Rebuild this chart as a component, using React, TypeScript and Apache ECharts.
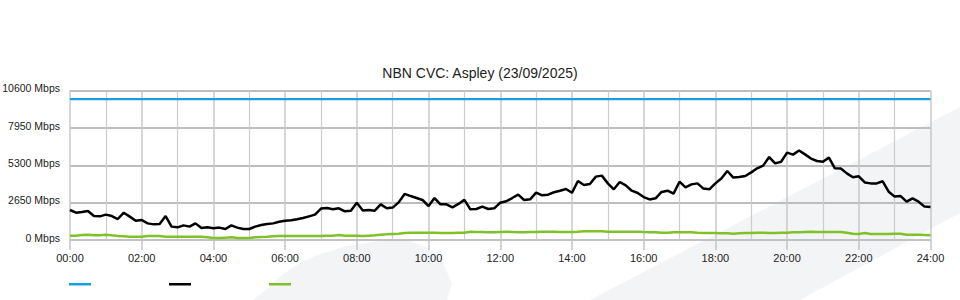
import React, { useEffect, useRef } from "react";
import * as echarts from "echarts";

const TITLE = "NBN CVC: Aspley (23/09/2025)";
const SERIES_NAMES = ["Capacity", "Download", "Upload"];
const SAMPLE_MINUTES = 10;

const capacityTimes = [0, 1440];
const capacityValues = [10000, 10000];

const downloadValues = [
  2130, 1940, 1990, 2060, 1700, 1680, 1800, 1700, 1490, 1940,
  1660, 1370, 1420, 1180, 1110, 1140, 1700, 950, 900, 1040,
  950, 1180, 850, 900, 830, 880, 780, 1040, 880, 780,
  780, 950, 1070, 1140, 1180, 1300, 1370, 1400, 1470, 1560,
  1680, 1800, 2230, 2270, 2180, 2250, 2040, 2080, 2650, 2100,
  2130, 2080, 2530, 2250, 2300, 2670, 3270, 3120, 2980, 2840,
  2410, 2980, 2530, 2530, 2320, 2560, 2850, 2180, 2200, 2370,
  2200, 2250, 2650, 2750, 2980, 3220, 2840, 2890, 3360, 3170,
  3220, 3390, 3500, 3620, 3350, 4190, 3900, 3980, 4500, 4570,
  4020, 3600, 4120, 3880, 3500, 3340, 3050, 2880, 2960, 3410,
  3500, 3290, 4140, 3740, 3950, 4020, 3650, 3600, 4020, 4360,
  4900, 4430, 4470, 4540, 4800, 5090, 5280, 5890, 5440, 5560,
  6200, 6060, 6350, 6080, 5780, 5610, 5560, 5850, 5090, 5070,
  4730, 4450, 4520, 4090, 4020, 4020, 4170, 3430, 3080, 3120,
  2720, 2960, 2720, 2370, 2340,
];

const uploadValues = [
  310, 310, 355, 380, 330, 330, 380, 330, 285, 260,
  235, 235, 235, 285, 285, 285, 235, 235, 235, 235,
  235, 235, 235, 190, 140, 140, 165, 190, 140, 140,
  140, 190, 215, 235, 260, 285, 285, 285, 285, 285,
  285, 285, 285, 310, 310, 355, 310, 310, 310, 285,
  310, 330, 380, 400, 425, 450, 500, 520, 520, 520,
  520, 520, 500, 500, 500, 520, 520, 590, 570, 570,
  545, 545, 570, 590, 570, 545, 545, 570, 570, 590,
  590, 590, 570, 570, 570, 590, 615, 615, 615, 615,
  590, 590, 590, 590, 590, 590, 560, 545, 545, 520,
  520, 545, 545, 545, 545, 520, 500, 500, 500, 475,
  475, 450, 475, 500, 500, 520, 520, 500, 500, 520,
  520, 545, 545, 570, 590, 570, 570, 570, 570, 570,
  520, 450, 425, 500, 425, 425, 425, 425, 450, 450,
  380, 380, 380, 355, 330,
];

const yTicks = [0, 2650, 5300, 7950, 10600];
const xLabelEveryMinutes = 120;

const COLORS = ["#1a9ee2", "#000000", "#7fc126"];
const FONT = "'Liberation Sans', Arial, Helvetica, sans-serif";

function fmtTime(m: number) {
  const h = Math.round(m / 60);
  return (h < 10 ? "0" + h : "" + h) + ":00";
}

export default function App() {
  const ref = useRef<HTMLDivElement>(null);
  useEffect(() => {
    if (!ref.current) return;
    const chart = echarts.init(ref.current, null, { renderer: "svg" });
    const pair = (vals: number[]) => vals.map((v, i) => [i * SAMPLE_MINUTES, v]);
    const legendAt = (name: string, left: number) => ({
      data: [name],
      left,
      top: 283,
      padding: 0,
      icon: "rect",
      itemWidth: 22,
      itemHeight: 2.5,
      formatter: () => "",
      selectedMode: false,
      textStyle: { fontSize: 1 },
    });
    chart.setOption({
      animation: false,
      textStyle: { fontFamily: FONT },
      title: {
        text: TITLE,
        left: "center",
        top: 61,
        textStyle: { fontSize: 14, fontWeight: "normal", color: "#222", fontFamily: FONT },
      },
      graphic: [
        {
          type: "polygon",
          z: -10,
          silent: true,
          shape: {
            points: [
              [253, 300], [268, 288], [283, 274], [300, 263], [317, 255], [347, 246],
              [380, 241], [410, 241], [428, 248], [440, 257], [446, 270], [452, 283], [447, 300],
            ],
          },
          style: { fill: "#f3f4f6" },
        },
        {
          type: "polygon",
          z: -10,
          silent: true,
          shape: { points: [[590, 300], [960, 107], [960, 213], [800, 300]] },
          style: { fill: "#f3f4f6" },
        },
      ],
      legend: [
        legendAt(SERIES_NAMES[0], 69),
        legendAt(SERIES_NAMES[1], 169),
        legendAt(SERIES_NAMES[2], 269),
      ],
      grid: { left: 70, right: 29.5, top: 90.7, bottom: 60, containLabel: false, outerBoundsMode: "none" },
      xAxis: {
        type: "value",
        min: 0,
        max: 1440,
        interval: xLabelEveryMinutes,
        axisLine: { show: true, lineStyle: { color: "#c4c4c4", width: 1.5 } },
        axisTick: { show: true, length: 10, lineStyle: { color: "#c4c4c4", width: 1.5 } },
        axisLabel: { formatter: (v: number) => fmtTime(v), fontSize: 11, color: "#222", margin: 12, fontFamily: FONT },
        splitLine: { show: true, lineStyle: { color: "#c8c8c8", width: 1.5 } },
        minorTick: { show: false, splitNumber: 2 },
        minorSplitLine: { show: true, lineStyle: { color: "#cccccc", width: 1.2 } },
      },
      yAxis: {
        type: "value",
        min: yTicks[0],
        max: yTicks[yTicks.length - 1],
        interval: yTicks[1] - yTicks[0],
        axisLine: { show: false },
        axisTick: { show: false },
        axisLabel: {
          formatter: (v: number) => v + " Mbps",
          fontSize: 10.5,
          color: "#222",
          margin: 10,
          verticalAlign: "bottom",
          lineHeight: 5,
          fontFamily: FONT,
        },
        splitLine: { show: true, lineStyle: { color: "#bdbdbd", width: 2 } },
      },
      series: [
        {
          name: SERIES_NAMES[0],
          type: "line",
          data: capacityTimes.map((t, i) => [t, capacityValues[i]]),
          showSymbol: false,
          lineStyle: { color: COLORS[0], width: 2.2 },
          itemStyle: { color: COLORS[0] },
          z: 3,
        },
        {
          name: SERIES_NAMES[1],
          type: "line",
          data: pair(downloadValues),
          showSymbol: false,
          lineStyle: { color: COLORS[1], width: 2.5 },
          itemStyle: { color: COLORS[1] },
          z: 4,
        },
        {
          name: SERIES_NAMES[2],
          type: "line",
          data: pair(uploadValues),
          showSymbol: false,
          lineStyle: { color: COLORS[2], width: 2.5 },
          itemStyle: { color: COLORS[2] },
          z: 3,
        },
      ],
    });
    return () => chart.dispose();
  }, []);
  return <div ref={ref} style={{ width: 960, height: 300, position: "absolute", left: 0, top: 0 }} />;
}
